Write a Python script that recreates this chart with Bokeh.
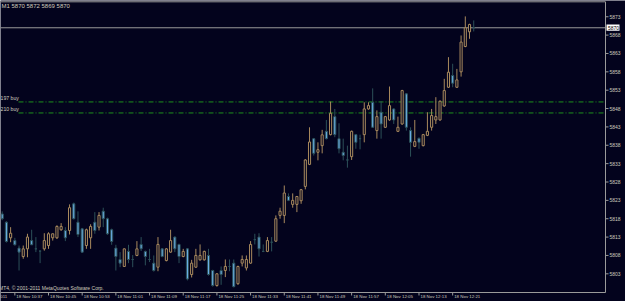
from bokeh.plotting import figure
from bokeh.models import ColumnDataSource, Range1d
from bokeh.core.properties import value
from bokeh.embed import file_html
from bokeh.resources import INLINE

# M1 candles, 18 Nov 2011, minutes after 10:34
opens = [5819.3, 5817.05, 5812.8, 5812.05, 5810.0, 5807.7, 5809.8, 5812.05, 5809.8, 5809.2,
         5809.8, 5810.7, 5812.8, 5812.8, 5815.0, 5814.8, 5814.8, 5822.06, 5817.05, 5815.25,
         5810.7, 5812.8, 5817.05, 5815.7, 5820.05, 5818.0, 5815.0, 5810.0, 5806.9, 5805.0,
         5809.1, 5806.9, 5808.0, 5811.0, 5809.1, 5806.9, 5805.9, 5804.8, 5809.8, 5806.6,
         5808.9, 5813.0, 5811.0, 5807.7, 5809.8, 5802.8, 5804.8, 5806.8, 5806.8, 5808.0,
         5803.9, 5799.8, 5803.9, 5803.9, 5805.0, 5805.9, 5800.3, 5805.9, 5804.6, 5805.9,
         5812.3, 5813.0, 5809.1, 5809.1, 5811.6, 5811.9, 5818.9, 5818.9, 5824.05, 5821.9,
         5821.9, 5822.9, 5826.8, 5832.8, 5839.8, 5836.1, 5837.9, 5841.8, 5840.9, 5845.8,
         5839.8, 5836.1, 5834.0, 5834.9, 5840.9, 5839.8, 5840.9, 5847.9, 5849.7, 5842.0,
         5847.0, 5842.9, 5844.9, 5847.9, 5841.8, 5843.8, 5852.0, 5842.0, 5837.7, 5839.9,
         5837.9, 5840.7, 5842.9, 5844.9, 5844.9, 5848.7, 5853.8, 5857.0, 5853.8, 5858.0,
         5864.9, 5868.9, 5870.0]
highs = [5820.0, 5817.3, 5815.7, 5812.8, 5810.7, 5810.7, 5813.9, 5815.0, 5813.0, 5809.2,
         5814.05, 5814.3, 5813.9, 5816.2, 5816.8, 5815.7, 5821.9, 5822.4, 5820.0, 5815.5,
         5815.3, 5816.5, 5819.8, 5819.8, 5821.0, 5818.3, 5815.3, 5810.9, 5808.9, 5809.9,
         5810.9, 5808.1, 5811.9, 5813.0, 5809.3, 5809.8, 5808.0, 5813.0, 5810.0, 5810.0,
         5815.0, 5813.2, 5811.2, 5809.8, 5810.0, 5806.8, 5809.8, 5811.0, 5809.3, 5809.8,
         5804.1, 5803.2, 5805.0, 5806.9, 5806.9, 5806.9, 5805.2, 5808.0, 5808.0, 5811.9,
         5813.9, 5814.05, 5811.0, 5813.0, 5813.0, 5818.9, 5821.0, 5827.05, 5824.9, 5824.9,
         5824.2, 5826.1, 5834.2, 5842.9, 5840.0, 5838.8, 5842.2, 5844.9, 5849.9, 5847.9,
         5844.0, 5839.8, 5837.9, 5842.0, 5841.1, 5840.9, 5849.7, 5849.7, 5853.5, 5847.5,
         5850.0, 5846.0, 5854.0, 5848.1, 5845.8, 5853.1, 5852.2, 5842.9, 5844.9, 5840.1,
         5841.1, 5847.0, 5847.9, 5851.1, 5850.2, 5856.1, 5862.0, 5860.2, 5858.8, 5867.9,
         5873.1, 5871.1, 5872.0]
lows = [5817.6, 5811.5, 5811.6, 5810.7, 5803.9, 5807.1, 5807.5, 5810.9, 5808.9, 5805.9,
        5809.3, 5809.8, 5812.05, 5812.5, 5814.7, 5811.9, 5813.7, 5817.8, 5813.0, 5808.8,
        5809.8, 5809.8, 5813.9, 5814.8, 5815.7, 5813.6, 5810.9, 5803.9, 5804.8, 5804.9,
        5805.9, 5804.8, 5807.8, 5809.2, 5805.3, 5806.2, 5803.6, 5803.7, 5807.5, 5806.4,
        5808.7, 5808.9, 5805.9, 5807.5, 5801.2, 5802.0, 5804.6, 5806.6, 5806.6, 5802.5,
        5799.5, 5799.5, 5800.0, 5802.1, 5803.7, 5799.3, 5800.0, 5805.0, 5803.9, 5805.7,
        5811.0, 5807.7, 5808.9, 5808.9, 5809.1, 5811.7, 5818.0, 5816.8, 5822.8, 5821.0,
        5819.8, 5822.06, 5826.0, 5832.6, 5835.2, 5833.9, 5835.8, 5839.6, 5840.7, 5840.2,
        5835.8, 5833.9, 5831.9, 5834.0, 5837.05, 5836.9, 5838.8, 5847.7, 5842.7, 5839.8,
        5839.8, 5842.7, 5844.7, 5843.8, 5841.6, 5843.6, 5842.0, 5834.9, 5837.5, 5837.05,
        5837.7, 5840.5, 5842.0, 5843.8, 5844.7, 5848.5, 5853.6, 5853.8, 5853.6, 5856.7,
        5864.7, 5867.0, 5869.0]
closes = [5818.0, 5811.8, 5814.05, 5810.9, 5808.9, 5809.8, 5813.0, 5810.9, 5809.8, 5809.2,
          5812.05, 5813.9, 5813.9, 5815.9, 5815.9, 5812.8, 5821.0, 5818.0, 5813.7, 5808.9,
          5815.0, 5815.9, 5814.8, 5818.9, 5818.0, 5813.9, 5811.8, 5807.7, 5805.9, 5809.8,
          5806.9, 5806.9, 5809.8, 5809.8, 5807.7, 5806.9, 5803.9, 5811.0, 5807.7, 5809.8,
          5812.05, 5809.8, 5807.7, 5809.1, 5801.6, 5805.9, 5808.0, 5808.0, 5809.1, 5802.8,
          5799.8, 5803.0, 5802.8, 5805.0, 5805.0, 5799.5, 5805.0, 5806.9, 5806.9, 5811.0,
          5812.3, 5809.8, 5809.1, 5812.05, 5811.6, 5818.0, 5820.05, 5825.0, 5823.0, 5823.0,
          5824.05, 5825.9, 5834.0, 5838.9, 5835.8, 5836.8, 5840.85, 5839.8, 5846.7, 5840.9,
          5837.05, 5835.2, 5834.0, 5841.8, 5838.8, 5839.8, 5847.9, 5848.8, 5842.9, 5845.8,
          5843.8, 5845.8, 5848.8, 5844.9, 5842.9, 5852.9, 5842.9, 5838.8, 5839.0, 5838.8,
          5840.9, 5841.8, 5846.1, 5845.8, 5850.0, 5852.9, 5857.9, 5854.9, 5855.8, 5866.1,
          5870.0, 5870.9, 5870.0]
minutes = list(range(len(opens)))

time_ticks = [-5, 3, 11, 19, 27, 35, 43, 51, 59, 67, 75, 83, 91, 99, 107]
time_labels = ["18 Nov 2011", "18 Nov 10:37", "18 Nov 10:45", "18 Nov 10:53", "18 Nov 11:01",
               "18 Nov 11:09", "18 Nov 11:17", "18 Nov 11:25", "18 Nov 11:33", "18 Nov 11:41",
               "18 Nov 11:49", "18 Nov 11:57", "18 Nov 12:05", "18 Nov 12:13", "18 Nov 12:21"]
price_ticks = [5803, 5808, 5813, 5818, 5823, 5828, 5833, 5838, 5843, 5848, 5853, 5858, 5863, 5868, 5873]
price_labels = [str(v) for v in price_ticks]
order_levels = [5849.8, 5846.8]
order_names = ["197 buy", "210 buy"]
bid = 5870
header = "M1  5870 5872 5869 5870"
copyright_text = "MT4, \u00a9 2001-2011 MetaQuotes Software Corp."

BG = "#03031d"
FG = "#cfcbbd"
AX = "#9a9a9a"
BULL = "#a98a5e"
BEAR_FILL = "#6aaee6"
BEAR_LINE = "#2c5058"
FONT = value("Liberation Sans")


# screen pixel -> data helpers (chart layout of the MT4 window)
def px(x):
    return (x - 1.7) / 4.21


def py(y):
    return 5803 + (273.3 - y) / 3.672


bull = [c > o for o, c in zip(opens, closes)]
src = ColumnDataSource(dict(
    t=minutes, o=opens, h=highs, l=lows, c=closes,
    top=[max(o, c) for o, c in zip(opens, closes)],
    bot=[min(o, c) for o, c in zip(opens, closes)],
    line=[BULL if b else BEAR_LINE for b in bull],
    fill=[BG if b else BEAR_FILL for b in bull],
))

p = figure(width=625, height=301, output_backend="svg", toolbar_location=None,
           x_range=Range1d(px(0), px(625)), y_range=Range1d(py(301), py(0)),
           x_axis_location=None, y_axis_location=None, min_border=0,
           background_fill_color=BG, border_fill_color=BG, outline_line_color=None)
p.grid.visible = False

x_axis_end = px(605)
y_axis_bottom = py(292)
y_top = py(1.3)

# frame lines: top, bid, right axis, bottom axis
p.segment(x0=[px(0), px(0), x_axis_end, px(0)],
          x1=[x_axis_end, x_axis_end, x_axis_end, x_axis_end],
          y0=[y_top, bid, y_axis_bottom, y_axis_bottom],
          y1=[y_top, bid, y_top, y_axis_bottom],
          line_color=AX, line_width=1)

# price scale ticks + labels
p.segment(x0=[x_axis_end] * len(price_ticks), x1=[px(608)] * len(price_ticks),
          y0=price_ticks, y1=price_ticks, line_color=AX, line_width=1)
p.text(x=[px(609)] * len(price_ticks), y=price_ticks, text=price_labels,
       text_font=FONT, text_font_size="5px", text_color=FG,
       text_align="left", text_baseline="middle")

# time scale ticks + labels (left aligned at tick like MT4)
p.segment(x0=time_ticks, x1=time_ticks, y0=[y_axis_bottom] * len(time_ticks),
          y1=[py(295)] * len(time_ticks), line_color=AX, line_width=1)
p.text(x=time_ticks, y=[py(293.6)] * len(time_ticks), text=time_labels,
       text_font=FONT, text_font_size="4.4px", text_color=FG,
       text_align="left", text_baseline="top", x_offset=1.5)

# order lines with their descriptions
p.segment(x0=[px(18)] * 2, x1=[x_axis_end] * 2, y0=order_levels, y1=order_levels,
          line_color="#1e8f1e", line_width=1, line_dash="5 2 1 2")
p.text(x=[px(0)] * 2, y=order_levels, text=order_names, y_offset=-1,
       text_font=FONT, text_font_size="5.2px", text_color=FG,
       text_align="left", text_baseline="bottom")

# candles
p.segment(x0="t", x1="t", y0="l", y1="h", source=src, line_color="line", line_width=1)
p.vbar(x="t", width=0.5, top="top", bottom="bot", source=src,
       fill_color="fill", line_color="line", line_width=1)

# bid price box
p.quad(left=[px(606)], right=[px(619)], bottom=[py(30.2)], top=[py(24.0)],
       fill_color="white", line_color=None)
p.text(x=[px(607.5)], y=[bid], text=[str(bid)], text_font=FONT, text_font_size="5px",
       text_color="black", text_align="left", text_baseline="middle")

# header and copyright
p.text(x=[px(1)], y=[py(5.3)], text=[header], text_font=FONT, text_font_size="6px",
       text_color=FG, text_align="left", text_baseline="middle")
p.text(x=[px(-1.5)], y=[py(287.2)], text=[copyright_text], text_font=FONT,
       text_font_size="5px", text_color=FG, text_align="left", text_baseline="middle")

open("out.html", "w").write(file_html(p, INLINE))
